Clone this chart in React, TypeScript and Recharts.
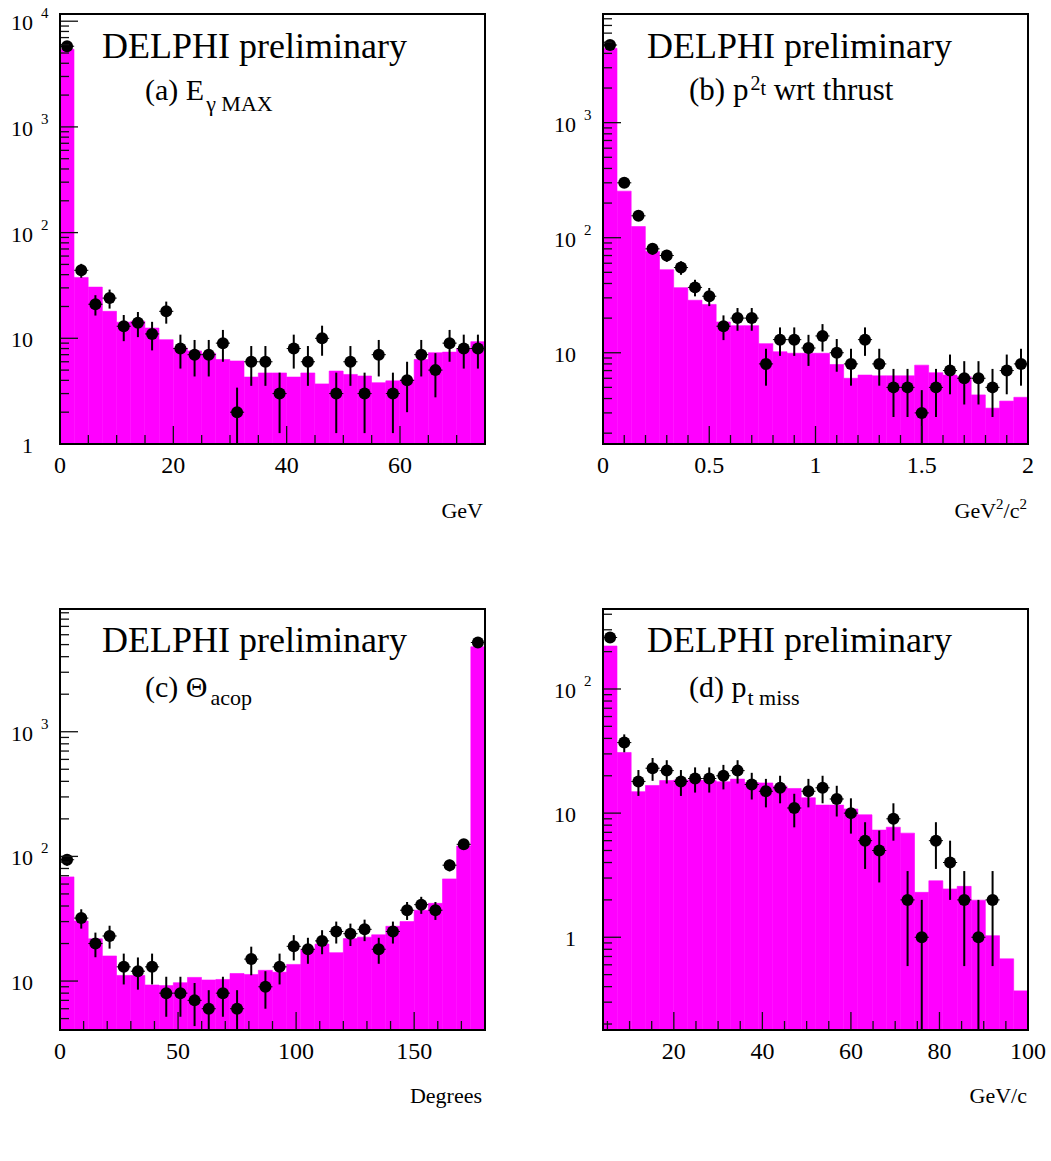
import React from 'react';
import { ComposedChart, Bar, Scatter, XAxis, YAxis, ErrorBar } from 'recharts';

const FONT = '"Liberation Serif", "Times New Roman", Times, serif';
const MAGENTA = '#FF00FF';

// ---------- Panel (a): E_gamma MAX (GeV), 30 bins of 2.5 GeV ----------
const centersA = [1.25, 3.75, 6.25, 8.75, 11.25, 13.75, 16.25, 18.75, 21.25, 23.75, 26.25, 28.75, 31.25, 33.75, 36.25, 38.75, 41.25, 43.75, 46.25, 48.75, 51.25, 53.75, 56.25, 58.75, 61.25, 63.75, 66.25, 68.75, 71.25, 73.75];
const simA = [5430, 37.7, 30.5, 18, 14.2, 14.5, 12.5, 9.7, 8.1, 7.6, 7.2, 6.3, 6.1, 4.3, 4.7, 4.7, 4.3, 4.7, 3.7, 4.9, 4.55, 4.4, 3.8, 3.96, 4.05, 6.3, 7.3, 7.4, 8.0, 9.3];
const dataA = [5800, 44, 21, 24, 13, 14, 11, 18, 8, 7, 7, 9, 2, 6, 6, 3, 8, 6, 10, 3, 6, 3, 7, 3, 4, 7, 5, 9, 8, 8];
const xMajorA = [0, 20, 40, 60];
const xLabelsA = ['0', '20', '40', '60'];
const xMinorA = [5, 10, 15, 25, 30, 35, 45, 50, 55, 65, 70];

// ---------- Panel (b): p_t^2 wrt thrust (GeV^2/c^2), 30 bins ----------
const centersB = [0.033, 0.1, 0.167, 0.233, 0.3, 0.367, 0.433, 0.5, 0.567, 0.633, 0.7, 0.767, 0.833, 0.9, 0.967, 1.033, 1.1, 1.167, 1.233, 1.3, 1.367, 1.433, 1.5, 1.567, 1.633, 1.7, 1.767, 1.833, 1.9, 1.967];
const simB = [4430, 254, 125, 76, 52.7, 36.8, 28.6, 26.3, 18.5, 17.2, 17.2, 12, 10.2, 9.9, 9.9, 9.9, 7.9, 6.0, 6.4, 6.3, 6.3, 6.3, 7.8, 6.7, 6.4, 6.2, 4.3, 3.3, 3.8, 4.1];
const dataB = [4730, 300, 155, 80, 70, 55, 37, 31, 17, 20, 20, 8, 13, 13, 11, 14, 10, 8, 13, 8, 5, 5, 3, 5, 7, 6, 6, 5, 7, 8];
const xMajorB = [0, 0.5, 1, 1.5, 2];
const xLabelsB = ['0', '0.5', '1', '1.5', '2'];
const xMinorB = [0.1, 0.2, 0.3, 0.4, 0.6, 0.7, 0.8, 0.9, 1.1, 1.2, 1.3, 1.4, 1.6, 1.7, 1.8, 1.9];

// ---------- Panel (c): Theta_acop (degrees), 30 bins of 6 deg ----------
const centersC = [3, 9, 15, 21, 27, 33, 39, 45, 51, 57, 63, 69, 75, 81, 87, 93, 99, 105, 111, 117, 123, 129, 135, 141, 147, 153, 159, 165, 171, 177];
const simC = [68.5, 30.3, 21.8, 15.9, 11.1, 11.1, 9.3, 9.2, 9.7, 10.7, 10.2, 10.3, 11.5, 11.3, 12.2, 11.8, 13.6, 17.9, 19.8, 16.9, 21.9, 22.5, 23.5, 27.5, 30, 37, 42, 66, 121, 4800];
const dataC = [94, 32, 20, 23, 13, 12, 13, 8, 8, 7, 6, 8, 6, 15, 9, 13, 19, 18, 21, 25, 24, 26, 18, 25, 37, 41, 37, 85, 125, 5200];
const xMajorC = [0, 50, 100, 150];
const xLabelsC = ['0', '50', '100', '150'];
const xMinorC = [10, 20, 30, 40, 60, 70, 80, 90, 110, 120, 130, 140, 160, 170];

// ---------- Panel (d): p_t miss (GeV/c), 30 bins of 3.2 GeV/c ----------
const centersD = [5.6, 8.8, 12, 15.2, 18.4, 21.6, 24.8, 28, 31.2, 34.4, 37.6, 40.8, 44, 47.2, 50.4, 53.6, 56.8, 60, 63.2, 66.4, 69.6, 72.8, 76, 79.2, 82.4, 85.6, 88.8, 92, 95.2, 98.4];
const simD = [222, 30.8, 14.9, 16.7, 18.3, 18.5, 18.5, 18.3, 17.9, 18.8, 17.6, 17.5, 16.5, 15.8, 13.3, 11.6, 11.6, 10.8, 9.7, 7.3, 7.7, 6.9, 2.3, 2.85, 2.45, 2.57, 1.99, 1.03, 0.67, 0.37];
const dataD: (number | null)[] = [260, 37, 18, 23, 22, 18, 19, 19, 20, 22, 17, 15, 16, 11, 15, 16, 13, 10, 6, 5, 9, 2, 1, 6, 4, 2, 1, 2, null, null];
const xMajorD = [20, 40, 60, 80, 100];
const xLabelsD = ['20', '40', '60', '80', '100'];
const xMinorD = [5, 10, 15, 25, 30, 35, 45, 50, 55, 65, 70, 75, 85, 90, 95];

// log-axis ticks
const yMajorA = [1, 10, 100, 1000, 10000];
const yMajorB = [10, 100, 1000];
const yMajorC = [10, 100, 1000];
const yMajorD = [1, 10, 100];

function minorLogTicks(lo: number, hi: number): number[] {
  const out: number[] = [];
  for (let e = -2; e <= 5; e++) {
    for (let m = 2; m <= 9; m++) {
      const v = Math.round(m * Math.pow(10, e) * 1e6) / 1e6;
      if (v > lo && v < hi) out.push(v);
    }
  }
  return out;
}

type Cfg = {
  left: number; top: number; width: number; height: number;
  margin: { top: number; right: number; bottom: number; left: number };
  centers: number[]; sim: number[]; data: (number | null)[];
  halfBin: number;
  xDomain: [number, number]; yDomain: [number, number];
  xMajor: number[]; xLabels: string[]; xMinor: number[];
  yMajor: number[];
};

const near = (a: number, b: number) => Math.abs(a - b) < 1e-7 * Math.max(1, Math.abs(b));

function Panel({ cfg }: { cfg: Cfg }) {
  // plot box (axis width/height of 1px is added to the margins)
  const pl = cfg.margin.left + 1;
  const pb = cfg.height - cfg.margin.bottom - 1;
  const histRows = cfg.centers.map((c, i) => ({ bin: String(i + 1), h: cfg.sim[i] }));
  const pts = cfg.centers
    .map((c, i) => ({ x: c, y: cfg.data[i] as number }))
    .filter((p) => p.y !== null && p.y !== undefined)
    .map((p) => {
      const e = Math.sqrt(p.y); // Poisson error on the counts
      return { ...p, ey: [Math.min(e, p.y - cfg.yDomain[0] * 1.0005), e], ex: cfg.halfBin };
    });
  const yMinor = minorLogTicks(cfg.yDomain[0], cfg.yDomain[1]);
  const yTicks = [...cfg.yMajor, ...yMinor];
  const xTicks = [...cfg.xMajor, ...cfg.xMinor].filter((v) => v >= cfg.xDomain[0] && v <= cfg.xDomain[1]);

  const XTick = (props: any) => {
    const v = props.payload.value as number;
    const x = props.payload.coordinate as number;
    const mi = cfg.xMajor.findIndex((m) => near(m, v));
    const major = mi >= 0;
    return (
      <g>
        <line x1={x} x2={x} y1={pb} y2={pb - (major ? 18 : 9)} stroke="#111" strokeWidth={1.3} />
        {major && (
          <text x={x} y={pb + 29} textAnchor="middle" fontSize={24} fontFamily={FONT} fill="#000">
            {cfg.xLabels[mi]}
          </text>
        )}
      </g>
    );
  };

  const YTick = (props: any) => {
    const v = props.payload.value as number;
    const y = props.payload.coordinate as number;
    const major = cfg.yMajor.some((m) => near(m, v));
    const e = Math.round(Math.log10(v));
    const xr = pl - 27;
    return (
      <g>
        <line x1={pl} x2={pl + (major ? 18 : 9)} y1={y} y2={y} stroke="#111" strokeWidth={1.3} />
        {major && (
          <text x={xr} y={y + 9} textAnchor="end" fontSize={22} fontFamily={FONT} fill="#000">
            {e === 0 ? '1' : '10'}
          </text>
        )}
        {major && e >= 2 && (
          <text x={xr + 8} y={y - 3} fontSize={15} fontFamily={FONT} fill="#000">
            {String(e)}
          </text>
        )}
      </g>
    );
  };

  const Dot = (p: any) => <circle cx={p.cx} cy={p.cy} r={6} fill="#000" />;

  return (
    <div style={{ position: 'absolute', left: cfg.left, top: cfg.top, width: cfg.width, height: cfg.height }}>
      <ComposedChart
        width={cfg.width}
        height={cfg.height}
        data={histRows}
        margin={cfg.margin}
        barCategoryGap={0}
        barGap={0}
      >
        <Bar dataKey="h" xAxisId="cat" fill={MAGENTA} stroke={MAGENTA} strokeWidth={0.6} isAnimationActive={false} />
        <Scatter data={pts} dataKey="y" xAxisId="num" shape={Dot} isAnimationActive={false}>
          <ErrorBar dataKey="ey" direction="y" width={0} stroke="#000" strokeWidth={2} isAnimationActive={false} />
          <ErrorBar dataKey="ex" direction="x" width={0} stroke="#000" strokeWidth={1} isAnimationActive={false} />
        </Scatter>
        <XAxis xAxisId="cat" dataKey="bin" type="category" hide />
        <XAxis
          xAxisId="num"
          dataKey="x"
          type="number"
          domain={cfg.xDomain}
          allowDataOverflow
          ticks={xTicks}
          interval={0}
          height={1}
          axisLine={false}
          tickLine={false}
          tick={XTick}
        />
        <YAxis
          type="number"
          scale="log"
          domain={cfg.yDomain}
          allowDataOverflow
          ticks={yTicks}
          interval={0}
          width={1}
          axisLine={false}
          tickLine={false}
          tick={YTick}
        />
      </ComposedChart>
    </div>
  );
}

const panels: Cfg[] = [
  {
    left: 0, top: 0, width: 525, height: 580,
    margin: { top: 14, right: 40, bottom: 135, left: 59 },
    centers: centersA, sim: simA, data: dataA, halfBin: 1.25,
    xDomain: [0, 75], yDomain: [1, 11700],
    xMajor: xMajorA, xLabels: xLabelsA, xMinor: xMinorA, yMajor: yMajorA,
  },
  {
    left: 525, top: 0, width: 526, height: 580,
    margin: { top: 14, right: 23, bottom: 135, left: 77 },
    centers: centersB, sim: simB, data: dataB, halfBin: 0.0333,
    xDomain: [0, 2], yDomain: [1.61, 8800],
    xMajor: xMajorB, xLabels: xLabelsB, xMinor: xMinorB, yMajor: yMajorB,
  },
  {
    left: 0, top: 580, width: 525, height: 581,
    margin: { top: 29, right: 40, bottom: 130, left: 59 },
    centers: centersC, sim: simC, data: dataC, halfBin: 3,
    xDomain: [0, 180], yDomain: [4.05, 9650],
    xMajor: xMajorC, xLabels: xLabelsC, xMinor: xMinorC, yMajor: yMajorC,
  },
  {
    left: 525, top: 580, width: 526, height: 581,
    margin: { top: 29, right: 23, bottom: 130, left: 77 },
    centers: centersD, sim: simD, data: dataD, halfBin: 1.6,
    xDomain: [4, 100], yDomain: [0.179, 441],
    xMajor: xMajorD, xLabels: xLabelsD, xMinor: xMinorD, yMajor: yMajorD,
  },
];

const frames = [
  { x: 60, y: 14, w: 425, h: 430 },
  { x: 603, y: 14, w: 425, h: 430 },
  { x: 60, y: 609, w: 425, h: 421 },
  { x: 603, y: 609, w: 425, h: 421 },
];

export default function App() {
  const t = { fontFamily: FONT, fill: '#000' } as const;
  return (
    <div style={{ position: 'absolute', left: 0, top: 0, width: 1051, height: 1161, background: '#fff' }}>
      {panels.map((p, i) => (
        <Panel key={i} cfg={p} />
      ))}
      <svg
        width={1051}
        height={1161}
        style={{ position: 'absolute', left: 0, top: 0, pointerEvents: 'none' }}
      >
        {frames.map((f, i) => (
          <rect key={i} x={f.x} y={f.y} width={f.w} height={f.h} fill="none" stroke="#000" strokeWidth={2} />
        ))}
        {/* panel titles */}
        <text x={102} y={58} fontSize={36} {...t}>DELPHI preliminary</text>
        <text x={647} y={58} fontSize={36} {...t}>DELPHI preliminary</text>
        <text x={102} y={652} fontSize={36} {...t}>DELPHI preliminary</text>
        <text x={647} y={652} fontSize={36} {...t}>DELPHI preliminary</text>

        <text x={145} y={100} fontSize={30} {...t}>
          (a) E<tspan fontSize={22} dx={2} dy={11}>γ MAX</tspan>
        </text>
        <text x={689} y={100} fontSize={31} {...t}>
          (b) p<tspan fontSize={20} dx={2} dy={-10}>2</tspan>
          <tspan fontSize={20} dy={5}>t</tspan>
          <tspan fontSize={31} dy={5}> wrt thrust</tspan>
        </text>
        <text x={145} y={697} fontSize={30} {...t}>
          (c) Θ<tspan fontSize={22} dx={3} dy={8}>acop</tspan>
        </text>
        <text x={689} y={697} fontSize={30} {...t}>
          (d) p<tspan fontSize={22} dx={1} dy={8}>t miss</tspan>
        </text>

        {/* axis units */}
        <text x={483} y={518} fontSize={22} textAnchor="end" {...t}>GeV</text>
        <text x={1027} y={518} fontSize={22} textAnchor="end" {...t}>
          GeV<tspan fontSize={15} dy={-9}>2</tspan>
          <tspan dy={9}>/c</tspan>
          <tspan fontSize={15} dy={-9}>2</tspan>
        </text>
        <text x={482} y={1103} fontSize={22} textAnchor="end" {...t}>Degrees</text>
        <text x={1027} y={1103} fontSize={22} textAnchor="end" {...t}>GeV/c</text>
      </svg>
    </div>
  );
}
